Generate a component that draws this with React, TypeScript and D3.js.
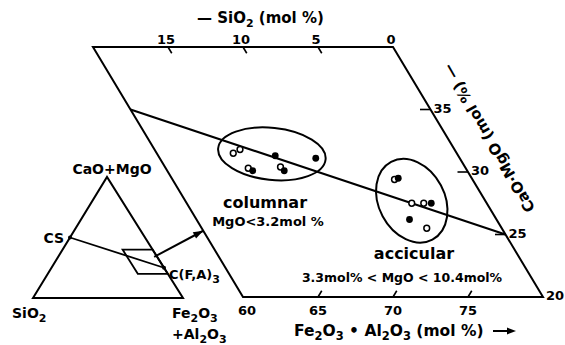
import React from 'react';
import * as d3 from 'd3';

// Data: Fe2O3+Al2O3 (mol %) and CaO+MgO (mol %); SiO2 = 100 - both
const columnarFe = [53.6, 53.9, 56.5, 59.3, 55.2, 55.6, 57.3, 57.7];
const columnarCaMg = [31.5, 31.8, 31.3, 31.1, 30.3, 30.1, 30.4, 30.1];
const columnarFilled = [false, false, true, true, false, true, false, true];

const accicularFe = [65.4, 65.6, 67.5, 68.3, 68.8, 68.0, 69.5];
const accicularCaMg = [29.4, 29.5, 27.5, 27.5, 27.5, 26.2, 25.5];
const accicularFilled = [false, true, false, false, true, true, false];

const sio2Ticks = [15, 10, 5, 0];
const caMgTicks = [35, 30, 25];
const feTicks = [60, 65, 70, 75];

const FONT = '"DejaVu Sans", sans-serif';

export default function App() {
  // ternary section: u = Fe + CaO/2 horizontally, CaO vertically
  const xS = d3.scaleLinear().domain([70, 90]).range([243, 543]);
  const yS = d3.scaleLinear().domain([20, 40]).range([297, 47]);
  const P = (fe: number, ca: number): [number, number] => [xS(fe + ca / 2), yS(ca)];

  // small full triangle
  const A: [number, number] = [33, 298]; // SiO2
  const B: [number, number] = [107, 177]; // CaO+MgO
  const Cv: [number, number] = [183, 298]; // Fe2O3+Al2O3
  const T = (s: number, c: number, f: number): [number, number] => [
    s * A[0] + c * B[0] + f * Cv[0],
    s * A[1] + c * B[1] + f * Cv[1],
  ];

  const line = d3.line();
  const para = [P(60, 20), P(80, 20), P(60, 40), P(40, 40)];
  const tie0 = P(45, 35);
  const tie1 = P(75, 25);

  const smallPara = [T(0.2, 0.4, 0.4), T(0, 0.4, 0.6), T(0, 0.2, 0.8), T(0.2, 0.2, 0.6)];
  const CS = T(0.5, 0.5, 0);
  const CFA = T(0, 0.25, 0.75);

  const arrowStart = T(0.02, 0.34, 0.64);
  const arrowEnd = P(54.7, 25.3);
  const ang = Math.atan2(arrowEnd[1] - arrowStart[1], arrowEnd[0] - arrowStart[0]);
  const ah = (len: number, w: number) => {
    const bx = arrowEnd[0] - len * Math.cos(ang);
    const by = arrowEnd[1] - len * Math.sin(ang);
    return `M${arrowEnd[0]},${arrowEnd[1]}L${bx - w * Math.sin(ang)},${by + w * Math.cos(ang)}L${bx + w * Math.sin(ang)},${by - w * Math.cos(ang)}Z`;
  };

  const colC = P(56.2, 31.45);
  const accC = P(67.4, 27.7);

  const stroke = '#000';
  const points = (fe: number[], ca: number[], filled: boolean[]) =>
    fe.map((f, i) => {
      const [x, y] = P(f, ca[i]);
      return filled[i] ? (
        <circle key={i} cx={x} cy={y} r={3.4} fill="#000" />
      ) : (
        <circle key={i} cx={x} cy={y} r={2.9} fill="#fff" stroke="#000" strokeWidth={1.5} />
      );
    });

  return (
    <svg width={565} height={345} style={{ position: 'absolute', left: 0, top: 0, background: '#fff' }}
      fontFamily={FONT} fontWeight="bold">
      <rect width={565} height={345} fill="#fff" />
      {/* big parallelogram */}
      <path d={line(para as any) + 'Z'} fill="none" stroke={stroke} strokeWidth={2} strokeLinejoin="miter" />
      <line x1={tie0[0]} y1={tie0[1]} x2={tie1[0]} y2={tie1[1]} stroke={stroke} strokeWidth={2} />

      {/* top ticks (SiO2) */}
      {sio2Ticks.map((s) => {
        const [x, y] = P(60 - s, 40);
        const [x2, y2] = P(60 - s + 0.5, 39.5);
        return (
          <g key={'s' + s}>
            {s !== 0 && <line x1={x} y1={y} x2={x2} y2={y2} stroke={stroke} strokeWidth={1.6} />}
            <text x={x - 2} y={44} textAnchor="middle" fontSize={13}>{s}</text>
          </g>
        );
      })}
      {/* right ticks (CaO+MgO) */}
      {caMgTicks.map((c) => {
        const [x, y] = P(100 - c, c);
        const [x2] = P(100 - c - 0.7, c);
        return (
          <g key={'c' + c}>
            <line x1={x} y1={y} x2={x2} y2={y} stroke={stroke} strokeWidth={1.6} />
            <text x={x + 3} y={y + 3} fontSize={13}>{c}</text>
          </g>
        );
      })}
      <text x={P(80, 20)[0] + 3} y={P(80, 20)[1] + 3} fontSize={13}>20</text>
      {/* bottom ticks (Fe2O3+Al2O3) */}
      {feTicks.map((f) => {
        const [x, y] = P(f, 20);
        const [x2, y2] = P(f, 20.5);
        return (
          <g key={'f' + f}>
            {f !== 60 && <line x1={x} y1={y} x2={x2} y2={y2} stroke={stroke} strokeWidth={1.6} />}
            <text x={x + (f === 60 ? 4 : 0)} y={315} textAnchor="middle" fontSize={13}>{f}</text>
          </g>
        );
      })}

      {/* axis titles */}
      <text x={197} y={23} fontSize={15}>
        — SiO<tspan fontSize={11} dy={4}>2</tspan><tspan dy={-4}> (mol %)</tspan>
      </text>
      <text x={294} y={336} fontSize={15.5}>
        Fe<tspan fontSize={11.5} dy={4}>2</tspan><tspan dy={-4}>O</tspan><tspan fontSize={11.5} dy={4}>3</tspan>
        <tspan dy={-4}> • Al</tspan><tspan fontSize={11.5} dy={4}>2</tspan><tspan dy={-4}>O</tspan>
        <tspan fontSize={11.5} dy={4}>3</tspan><tspan dy={-4}> (mol %)</tspan>
      </text>
      <line x1={493} y1={331} x2={509} y2={331} stroke={stroke} strokeWidth={2} />
      <path d="M516,331L507,327.5L507,334.5Z" fill={stroke} />

      <text transform="translate(489,138) rotate(-120)" textAnchor="middle" dominantBaseline="central" fontSize={15}>
        CaO·MgO (mol %) —
      </text>

      {/* clusters */}
      <ellipse cx={colC[0]} cy={colC[1]} rx={54} ry={26} transform={`rotate(6,${colC[0]},${colC[1]})`}
        fill="none" stroke={stroke} strokeWidth={2} />
      <ellipse cx={accC[0]} cy={accC[1]} rx={44} ry={33} transform={`rotate(62,${accC[0]},${accC[1]})`}
        fill="none" stroke={stroke} strokeWidth={2} />
      {points(columnarFe, columnarCaMg, columnarFilled)}
      {points(accicularFe, accicularCaMg, accicularFilled)}

      <text x={265} y={208} textAnchor="middle" fontSize={16}>columnar</text>
      <text x={268} y={226} textAnchor="middle" fontSize={13}>MgO&lt;3.2mol %</text>
      <text x={414} y={259} textAnchor="middle" fontSize={16}>accicular</text>
      <text x={402} y={282} textAnchor="middle" fontSize={12.5}>3.3mol% &lt; MgO &lt; 10.4mol%</text>

      {/* small triangle */}
      <path d={line([A, B, Cv] as any) + 'Z'} fill="none" stroke={stroke} strokeWidth={2} />
      <path d={line(smallPara as any) + 'Z'} fill="none" stroke={stroke} strokeWidth={1.8} />
      <line x1={CS[0]} y1={CS[1]} x2={CFA[0]} y2={CFA[1]} stroke={stroke} strokeWidth={1.8} />
      <circle cx={CS[0]} cy={CS[1]} r={2} fill={stroke} />
      <circle cx={CFA[0]} cy={CFA[1]} r={2} fill={stroke} />
      <line x1={arrowStart[0]} y1={arrowStart[1]} x2={arrowEnd[0]} y2={arrowEnd[1]} stroke={stroke} strokeWidth={2} />
      <path d={ah(10, 3.5)} fill={stroke} />

      <text x={112} y={174} textAnchor="middle" fontSize={14}>CaO+MgO</text>
      <text x={64} y={243} textAnchor="end" fontSize={14}>CS</text>
      <text x={169} y={279} fontSize={13}>
        C(F,A)<tspan fontSize={11} dy={4}>3</tspan>
      </text>
      <text x={12} y={318} fontSize={14}>
        SiO<tspan fontSize={11} dy={4}>2</tspan>
      </text>
      <text x={172} y={318} fontSize={14}>
        Fe<tspan fontSize={11} dy={4}>2</tspan><tspan dy={-4}>O</tspan><tspan fontSize={11} dy={4}>3</tspan>
      </text>
      <text x={172} y={339} fontSize={14}>
        +Al<tspan fontSize={11} dy={4}>2</tspan><tspan dy={-4}>O</tspan><tspan fontSize={11} dy={4}>3</tspan>
      </text>
    </svg>
  );
}
